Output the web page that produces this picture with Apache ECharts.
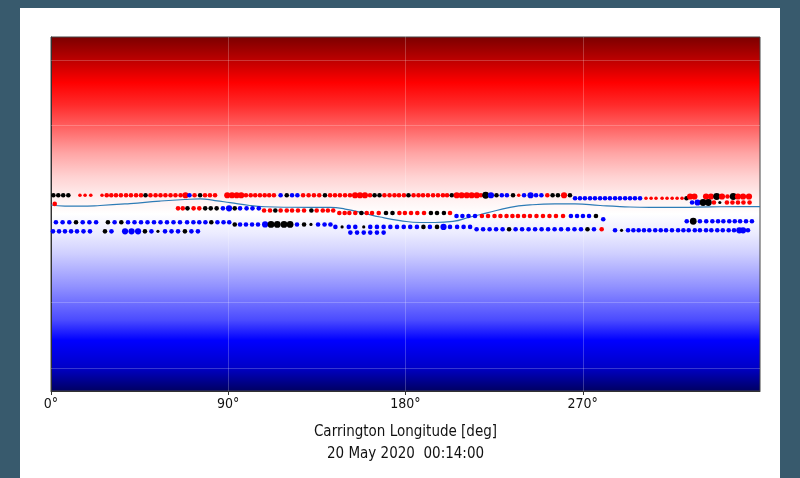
<!DOCTYPE html>
<html><head><meta charset="utf-8">
<script src="https://cdn.jsdelivr.net/npm/echarts@6/dist/echarts.min.js"></script>
<style>
html,body{margin:0;padding:0;background:#385a6d;width:800px;height:478px;overflow:hidden}
#panel{position:absolute;left:20px;top:8px;width:760px;height:470px;background:#fff}
#chart{position:absolute;left:0;top:0;width:800px;height:478px}
</style></head><body>
<div id="panel"></div><div id="chart"></div>
<script>
// x tick labels (Carrington longitude, deg)
const xTicks = [0, 90, 180, 270];
// y axis is sine(latitude); faint grid at ±30°, ±60°
const yGridSin = [-0.866, -0.5, 0.5, 0.866];

// Neutral line: [longitude, sin(latitude)]
const neutralLine = [[0,0.051],[7.1,0.045],[14.7,0.044],[24.9,0.048],[40.1,0.059],[55.3,0.073],[68.0,0.082],[75.7,0.085],[83.3,0.076],[90.9,0.064],[101.0,0.048],[108.7,0.041],[121.4,0.038],[141.7,0.037],[149.3,0.028],[158.4,0.006],[167.1,-0.017],[177.2,-0.037],[187.4,-0.048],[195.0,-0.048],[204.1,-0.042],[212.8,-0.017],[221.4,0.006],[233.1,0.037],[243.2,0.051],[255.9,0.057],[266.1,0.057],[278.8,0.048],[288.9,0.042],[304.1,0.037],[319.4,0.037],[334.6,0.040],[349.8,0.042],[360,0.042]];

// Footpoint rows: [longitude, polarity/strength code]
// codes: r/R/q red (normal/large/small), b/B blue, k/K/j black
const rowA1Lat = 0.106;
const rowA1 = [[1.2,'k'],[3.7,'k'],[6.2,'k'],[8.8,'k'],[14.7,'q'],[17.3,'q'],[20.2,'q'],[25.9,'q'],
[28.3,'r'],[30.6,'r'],[33.0,'r'],[35.5,'r'],[38.1,'r'],[40.6,'r'],[43.2,'r'],[45.7,'r'],[48.0,'k'],
[50.5,'r'],[53.1,'r'],[55.6,'r'],[58.1,'r'],[60.7,'r'],[63.2,'r'],[65.8,'r'],[68.3,'R'],[70.3,'b'],[72.9,'r'],[75.7,'k'],
[78.2,'r'],[80.7,'r'],[83.3,'r'],[89.5,'R'],[91.9,'R'],[94.3,'R'],[96.6,'R'],
[99.0,'r'],[101.4,'r'],[103.7,'r'],[106.1,'r'],[108.5,'r'],[110.8,'r'],[113.2,'r'],
[116.6,'b'],[119.7,'k'],[122.4,'b'],[125.1,'b'],[128.0,'r'],[130.8,'r'],[133.5,'r'],[136.2,'r'],[139.1,'k'],
[141.7,'r'],[144.2,'r'],[146.7,'r'],[149.3,'r'],[151.8,'r'],[154.4,'R'],[156.9,'R'],[159.4,'R'],
[162.0,'r'],[164.3,'k'],[166.8,'k'],[169.3,'r'],[171.9,'r'],[174.4,'r'],[176.7,'r'],[179.2,'r'],[181.5,'k'],
[184.1,'r'],[186.6,'r'],[188.9,'r'],[191.4,'r'],[194.0,'r'],[196.5,'r'],[199.0,'r'],[201.1,'r'],[203.5,'k'],
[206.0,'R'],[208.5,'R'],[211.1,'R'],[213.6,'R'],[216.2,'R'],[218.3,'r'],[220.7,'K'],[223.4,'B'],[226.2,'k'],
[228.9,'b'],[231.5,'b'],[234.6,'k'],[237.5,'q'],[240.2,'b'],[243.5,'B'],[246.3,'b'],[249.0,'b'],[252.0,'r'],
[254.7,'k'],[257.4,'k'],[260.5,'R'],[263.5,'k']];
const rowA2Lat = 0.089;
const rowA2 = [[266.1,'b'],[268.6,'b'],[271.1,'b'],[273.7,'b'],[276.2,'b'],[278.8,'b'],[281.3,'b'],[283.8,'b'],[286.4,'b'],[288.9,'b'],[291.5,'b'],[294.0,'b'],[296.5,'b'],[299.1,'b'],[302.1,'q'],[304.7,'q'],[307.2,'q'],[310.3,'q'],[312.8,'q'],[315.4,'q'],[317.9,'q'],[320.4,'q'],[322.7,'k']];
const rowA3Lat = 0.099;
const rowA3 = [[324.5,'R'],[326.7,'R'],[332.6,'R'],[335.1,'R'],[338.0,'K'],[340.7,'R'],[343.5,'r'],[346.4,'K'],[348.8,'R'],[351.4,'R'],[354.4,'R']];
const rowA4Lat = 0.065;
const rowA4 = [[325.5,'b'],[328.3,'B'],[331.1,'K'],[333.8,'K'],[336.6,'r'],[339.6,'j'],[343.2,'r'],[346.0,'r'],[348.8,'r'],[351.6,'r'],[354.7,'r']];
const rowA5Lat = 0.057;
const rowA5 = [[1.9,'r']];

const rowB1Lat = 0.032;
const rowB1 = [[64.5,'r'],[66.9,'r'],[69.3,'k'],[72.4,'r'],[75.3,'r'],[78.3,'k'],[81.1,'k'],[84.1,'k'],[87.3,'b'],[90.4,'B'],[93.3,'k'],[96.0,'b'],[99.3,'b'],[102.3,'b'],[105.5,'b']];
const rowB2Lat = 0.020;
const rowB2 = [[108.2,'r'],[111.2,'r'],[113.9,'k'],[116.6,'r'],[119.7,'r'],[122.4,'r'],[125.4,'r'],[128.5,'r'],[132.2,'k'],[134.9,'r'],[138.0,'r'],[140.6,'r'],[143.3,'r']];
const rowB3Lat = 0.006;
const rowB3 = [[146.4,'r'],[149.1,'r'],[151.5,'r'],[154.5,'r'],[157.6,'k'],[160.3,'r'],[163.0,'r'],[166.4,'r'],[170.1,'k'],[173.4,'k'],[176.9,'r'],[179.7,'r'],[182.8,'r'],[186.0,'r'],[189.4,'r'],[192.9,'k'],[196.0,'k'],[199.5,'k'],[202.6,'r']];
const rowB4Lat = -0.011;
const rowB4 = [[205.9,'b'],[208.9,'b'],[212.0,'b'],[215.3,'b'],[218.8,'r'],[221.9,'r'],[225.2,'r'],[228.2,'r'],[231.3,'r'],[234.3,'r'],[237.1,'r'],[240.2,'r'],[243.2,'r'],[246.5,'r'],[249.8,'r'],[253.1,'r'],[256.4,'r'],[260.0,'r'],[264.0,'b'],[267.1,'b'],[270.1,'b'],[273.2,'b'],[276.7,'k']];

const rowC1Lat = -0.047;
const rowC1 = [[2.5,'b'],[5.9,'b'],[9.3,'b'],[12.7,'k'],[16.1,'b'],[19.5,'b'],[22.9,'b'],[28.9,'k'],[32.3,'b'],[35.7,'k'],[39.1,'b'],[42.4,'b'],[45.7,'b'],[49.0,'b'],[52.3,'b'],[55.6,'b'],[58.9,'b'],[62.2,'b'],[65.5,'b'],[69.1,'b'],[72.3,'b'],[75.3,'b'],[78.4,'b'],[81.4,'k'],[84.5,'b'],[87.6,'b'],[90.5,'b']];
const rowC2Lat = -0.059;
const rowC2 = [[93.3,'k'],[96.0,'b'],[99.0,'b'],[102.1,'b'],[105.1,'b'],[108.7,'B'],[111.7,'K'],[114.9,'K'],[118.3,'K'],[121.4,'K'],[124.9,'b'],[128.5,'k'],[132.0,'j'],[135.6,'b'],[138.9,'b'],[141.9,'b']];
const rowC3Lat = -0.073;
const rowC3 = [[144.4,'b'],[147.8,'j'],[151.2,'b'],[154.5,'b'],[158.8,'j'],[162.1,'b'],[165.5,'b'],[168.9,'b'],[172.3,'b'],[175.7,'b'],[179.1,'b'],[182.4,'b'],[185.8,'b'],[189.1,'k'],[192.4,'b'],[196.0,'k'],[199.3,'B'],[202.6,'b'],[206.2,'b'],[209.5,'b'],[212.8,'b']];
const rowC4Lat = -0.086;
const rowC4 = [[216.1,'b'],[219.4,'b'],[222.7,'b'],[226.0,'b'],[229.3,'b'],[232.6,'k'],[235.9,'b'],[239.2,'b'],[242.5,'b'],[245.8,'b'],[249.1,'b'],[252.4,'b'],[255.7,'b'],[259.0,'b'],[262.5,'b'],[265.8,'b'],[269.1,'b'],[272.4,'k'],[275.7,'b'],[279.6,'r']];
const rowC5Lat = -0.092;
const rowC5 = [[286.4,'b'],[289.7,'j'],[293.0,'b'],[295.7,'b'],[298.4,'b'],[301.1,'b'],[303.8,'b'],[306.8,'b'],[309.6,'b'],[312.3,'b'],[315.3,'b'],[318.4,'b'],[321.1,'b'],[323.8,'b'],[326.9,'b'],[329.5,'b'],[332.6,'b'],[335.3,'b'],[338.3,'b'],[341.1,'b'],[344.1,'b'],[346.8,'b'],[349.5,'B'],[351.4,'B'],[353.9,'b']];
const rowC6Lat = -0.041;
const rowC6 = [[322.8,'b'],[326.1,'K'],[329.5,'b'],[332.7,'b'],[335.8,'b'],[338.7,'b'],[341.4,'b'],[344.4,'b'],[347.2,'b'],[349.9,'b'],[352.9,'b'],[355.9,'b']];
const rowC7Lat = -0.030;
const rowC7 = [[280.4,'b']];

const rowDLat = -0.098;
const rowD = [[1.0,'b'],[4.1,'b'],[7.1,'b'],[10.2,'b'],[13.2,'b'],[16.5,'b'],[19.8,'b'],[27.4,'k'],[30.7,'b'],[37.6,'B'],[40.9,'B'],[44.2,'B'],[47.7,'k'],[51.0,'b'],[54.3,'j'],[57.9,'b'],[61.2,'b'],[64.5,'b'],[68.0,'k'],[71.3,'b'],[74.6,'b']];
const rowELat = -0.105;
const rowE = [[152.0,'b'],[155.4,'b'],[158.8,'b'],[162.1,'b'],[165.5,'b'],[168.9,'b']];

const STYLE = {
  r:['#ff0000',4.6], R:['#ff0000',6.2], q:['#ff0000',3.6],
  b:['#0000ff',4.6], B:['#0000ff',6.2],
  k:['#000000',4.6], K:['#000000',6.8], j:['#000000',3.2]
};
const dots = [];
function addRow(pts, lat){
  pts.forEach(function(p){
    const st = STYLE[p[1]];
    dots.push({value:[p[0], lat], symbolSize: st[1], itemStyle:{color: st[0], opacity:1}});
  });
}
addRow(rowA1,rowA1Lat); addRow(rowA2,rowA2Lat); addRow(rowA3,rowA3Lat); addRow(rowA4,rowA4Lat); addRow(rowA5,rowA5Lat);
addRow(rowB1,rowB1Lat); addRow(rowB2,rowB2Lat); addRow(rowB3,rowB3Lat); addRow(rowB4,rowB4Lat);
addRow(rowC1,rowC1Lat); addRow(rowC2,rowC2Lat); addRow(rowC3,rowC3Lat); addRow(rowC4,rowC4Lat);
addRow(rowC5,rowC5Lat); addRow(rowC6,rowC6Lat); addRow(rowC7,rowC7Lat);
addRow(rowD,rowDLat); addRow(rowE,rowELat);

const FONT = "'Liberation Sans Narrow','DejaVu Sans Condensed','DejaVu Sans',sans-serif";
const bg = new echarts.graphic.LinearGradient(0,0,0,1,[
  {offset:0,color:'#7a0000'},{offset:0.065,color:'#bb0000'},{offset:0.13,color:'#ff0000'},
  {offset:0.192,color:'#ff2a2a'},{offset:0.249,color:'#ff5c5c'},{offset:0.328,color:'#ffa4a4'},
  {offset:0.395,color:'#ffd2d2'},{offset:0.46,color:'#fff2f2'},{offset:0.5,color:'#ffffff'},
  {offset:0.554,color:'#ececff'},{offset:0.61,color:'#d0d0ff'},{offset:0.706,color:'#9090ff'},
  {offset:0.8,color:'#4a4aff'},{offset:0.856,color:'#0000ff'},{offset:0.932,color:'#0000c8'},
  {offset:1,color:'#000060'}
]);

const chart = echarts.init(document.getElementById('chart'), null, {renderer:'canvas'});
chart.setOption({
  animation:false,
  backgroundColor:'transparent',
  grid:{left:51,right:40,top:37,bottom:87,show:true,backgroundColor:bg,borderColor:'#444',borderWidth:1},
  xAxis:{
    type:'value',min:0,max:360,interval:90,
    axisLine:{show:true,onZero:false,lineStyle:{color:'#333',width:1}},
    axisTick:{show:true,length:4,lineStyle:{color:'#333'},customValues:xTicks},
    axisLabel:{
      margin:6,fontSize:14,color:'#111',fontFamily:FONT,customValues:xTicks,
      formatter:function(v){return xTicks.indexOf(v)>=0 ? v+'°' : '';}
    },
    splitLine:{show:true,lineStyle:{color:'rgba(255,255,255,0.22)',width:1}},
    name:'Carrington Longitude [deg]\n20 May 2020  00:14:00',
    nameLocation:'middle',nameGap:30,
    nameTextStyle:{fontSize:15,color:'#111',fontFamily:FONT,lineHeight:22}
  },
  yAxis:{
    type:'value',min:-1,max:1,
    axisLine:{show:true,onZero:false,lineStyle:{color:'#333'}},
    axisTick:{show:false},axisLabel:{show:false},splitLine:{show:false}
  },
  series:[
    {
      type:'line',data:neutralLine,smooth:0.5,showSymbol:false,symbol:'none',
      lineStyle:{color:'#2e7cb6',width:1.2},z:2,silent:true,
      markLine:{silent:true,symbol:'none',label:{show:false},
        lineStyle:{color:'rgba(255,255,255,0.22)',type:'solid',width:1},
        data:yGridSin.map(function(v){return {yAxis:v};})}
    },
    {type:'scatter',data:dots,z:3,silent:true,itemStyle:{opacity:1}}
  ]
});
</script></body></html>
